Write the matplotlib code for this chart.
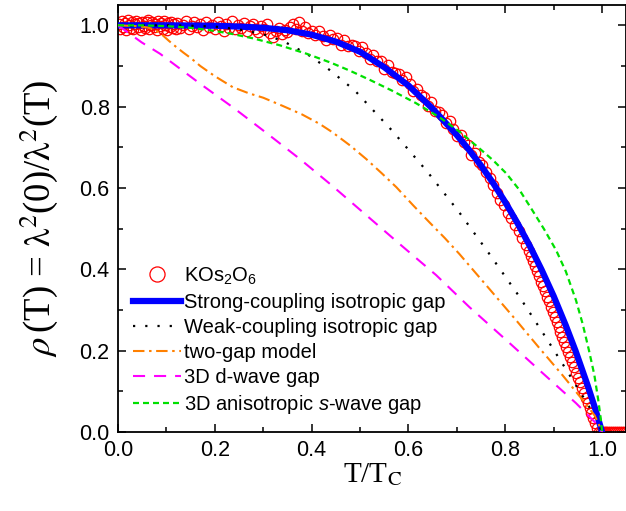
import matplotlib
matplotlib.use("Agg")
import matplotlib.pyplot as plt
from matplotlib.ticker import MultipleLocator

plt.rcParams['font.family'] = ['Liberation Sans', 'DejaVu Sans']
plt.rcParams['mathtext.fontset'] = 'custom'
plt.rcParams['mathtext.rm'] = 'Liberation Sans'
plt.rcParams['mathtext.it'] = 'Liberation Sans:italic'

t_data = [0.002, 0.005, 0.008, 0.011, 0.014, 0.017, 0.020, 0.023, 0.026, 0.029,
          0.032, 0.035, 0.038, 0.041, 0.044, 0.047, 0.050, 0.053, 0.056, 0.059,
          0.062, 0.065, 0.068, 0.071, 0.074, 0.077, 0.080, 0.083, 0.086, 0.089,
          0.092, 0.095, 0.098, 0.101, 0.104, 0.107, 0.110, 0.113, 0.116, 0.119,
          0.122, 0.128, 0.134, 0.140, 0.146, 0.152, 0.158, 0.164, 0.170, 0.176,
          0.182, 0.188, 0.194, 0.200, 0.206, 0.212, 0.218, 0.224, 0.230, 0.236,
          0.242, 0.248, 0.254, 0.260, 0.266, 0.272, 0.278, 0.284, 0.290, 0.296,
          0.302, 0.308, 0.314, 0.320, 0.326, 0.332, 0.338, 0.344, 0.350, 0.356,
          0.362, 0.368, 0.374, 0.380, 0.386, 0.392,
          0.400, 0.4075, 0.415, 0.4225, 0.430, 0.4375, 0.445, 0.4525, 0.460, 0.4675,
          0.475, 0.4825, 0.490, 0.4975, 0.505, 0.5125, 0.520, 0.5275, 0.535, 0.5425,
          0.550, 0.5575, 0.565, 0.5725, 0.580, 0.5875, 0.595, 0.6025, 0.610, 0.6175,
          0.625, 0.6325, 0.640, 0.6475, 0.655, 0.6625, 0.670, 0.6775, 0.685, 0.6925,
          0.700, 0.7075, 0.715, 0.7225, 0.730, 0.7375, 0.745, 0.7525, 0.760, 0.7675,
          0.775, 0.7825, 0.790, 0.7975, 0.805, 0.8125, 0.820, 0.8275, 0.835, 0.8425,
          0.850, 0.854, 0.858, 0.862, 0.866, 0.870, 0.874, 0.878, 0.882, 0.886,
          0.890, 0.894, 0.898, 0.902, 0.906, 0.910, 0.914, 0.918, 0.922, 0.926,
          0.930, 0.934, 0.938, 0.942, 0.946, 0.950, 0.954, 0.958, 0.962, 0.966,
          0.970, 0.974, 0.978, 0.982, 0.986, 0.990, 0.993,
          0.997, 1.001, 1.005, 1.009, 1.013, 1.017, 1.021, 1.025, 1.029, 1.033,
          1.037, 1.041, 1.045, 1.049]
rho_data = [1.004, 0.992, 1.010, 0.997, 1.006, 0.989, 1.012, 1.001, 0.994, 1.008,
            0.990, 1.003, 1.011, 0.996, 1.005, 0.988, 1.009, 0.999, 0.993, 1.007,
            1.012, 0.991, 1.002, 1.009, 0.995, 1.004, 0.988, 1.010, 0.998, 1.006,
            0.992, 1.011, 1.000, 0.989, 1.005, 0.997, 1.009, 0.993, 1.003, 0.990,
            1.006, 0.993, 1.001, 1.010, 0.990, 0.998, 1.007, 0.995, 1.003, 0.988,
            1.008, 0.996, 1.002, 0.991, 1.009, 0.999, 0.987, 1.004, 0.994, 1.010,
            0.990, 1.000, 0.993, 1.006, 0.986, 0.998, 1.004, 0.991, 0.983, 0.999,
            0.990, 1.003, 0.980, 0.972, 0.987, 0.994, 0.978, 0.989, 0.983, 0.996,
            1.004, 0.990, 1.008, 0.985, 0.996, 0.981,
            0.987, 0.977, 0.987, 0.975, 0.965, 0.976, 0.966, 0.968, 0.951, 0.964,
            0.949, 0.951, 0.950, 0.938, 0.946, 0.932, 0.918, 0.926, 0.912, 0.912,
            0.893, 0.903, 0.885, 0.884, 0.880, 0.865, 0.872, 0.855, 0.839, 0.844,
            0.828, 0.824, 0.802, 0.811, 0.790, 0.786, 0.779, 0.761, 0.764, 0.746,
            0.728, 0.731, 0.712, 0.705, 0.681, 0.687, 0.664, 0.657, 0.640, 0.624,
            0.607, 0.588, 0.570, 0.558, 0.539, 0.526, 0.508, 0.494, 0.478, 0.461,
            0.445, 0.433, 0.420, 0.408, 0.395, 0.383, 0.370, 0.358, 0.346, 0.333,
            0.321, 0.308, 0.296, 0.283, 0.271, 0.258, 0.246, 0.234, 0.221, 0.209,
            0.196, 0.184, 0.171, 0.159, 0.146, 0.134, 0.122, 0.109, 0.097, 0.084,
            0.072, 0.059, 0.047, 0.034, 0.022, 0.009, 0.000,
            0.0, 0.0, 0.0, 0.0, 0.0, 0.0, 0.0, 0.0, 0.0, 0.0,
            0.0, 0.0, 0.0, 0.0]

# model curves
t_strong = [0, 0.1, 0.2, 0.25, 0.3, 0.35, 0.4, 0.45, 0.5, 0.55, 0.6, 0.65, 0.7, 0.725, 0.75,
            0.775, 0.8, 0.825, 0.85, 0.875, 0.9, 0.925, 0.945, 0.97, 0.985, 1.0]
rho_strong = [1.0, 1.0, 0.999, 0.997, 0.994, 0.988, 0.977, 0.96, 0.935, 0.897, 0.852, 0.795, 0.73,
              0.694, 0.655, 0.612, 0.565, 0.514, 0.459, 0.399, 0.334, 0.262, 0.2, 0.115, 0.06, 0.0]

t_weak = [0, 0.1, 0.15, 0.2, 0.25, 0.3, 0.34, 0.39, 0.43, 0.489, 0.567, 0.639, 0.705, 0.767,
          0.829, 0.884, 0.925, 0.96, 0.987, 1.0]
rho_weak = [1.0, 1.0, 0.999, 0.997, 0.99, 0.978, 0.962, 0.93, 0.897, 0.84, 0.74, 0.64, 0.54, 0.438,
            0.333, 0.232, 0.155, 0.088, 0.035, 0.0]

t_two = [0, 0.04, 0.06, 0.075, 0.09, 0.105, 0.12, 0.135, 0.152, 0.17, 0.2, 0.237, 0.27, 0.3, 0.34,
         0.38, 0.416, 0.443, 0.48, 0.513, 0.545, 0.575, 0.61, 0.643, 0.675, 0.705, 0.767, 0.823,
         0.87, 0.918, 0.959, 0.985, 1.0]
rho_two = [1.0, 0.998, 0.995, 0.99, 0.978, 0.962, 0.947, 0.933, 0.918, 0.9, 0.875, 0.848, 0.833,
           0.822, 0.802, 0.781, 0.758, 0.737, 0.704, 0.671, 0.636, 0.602, 0.557, 0.516, 0.477, 0.438,
           0.352, 0.274, 0.207, 0.14, 0.08, 0.04, 0.0]

t_dwave = [0, 0.049, 0.087, 0.169, 0.24, 0.307, 0.375, 0.441, 0.513, 0.585, 0.657, 0.726, 0.802,
           0.877, 0.946, 0.987, 1.0]
rho_dwave = [1.0, 0.958, 0.93, 0.857, 0.796, 0.735, 0.672, 0.607, 0.533, 0.459, 0.386, 0.307, 0.226,
             0.145, 0.071, 0.022, 0.0]

t_swave = [0, 0.05, 0.1, 0.142, 0.19, 0.231, 0.279, 0.334, 0.39, 0.44, 0.478, 0.52, 0.565, 0.615,
           0.664, 0.705, 0.746, 0.775, 0.802, 0.83, 0.856, 0.88, 0.905, 0.925, 0.946, 0.96, 0.973,
           0.984, 0.992, 0.997, 1.0]
rho_swave = [1.0, 1.0, 0.998, 0.995, 0.988, 0.98, 0.968, 0.951, 0.93, 0.908, 0.889, 0.866, 0.84,
             0.809, 0.774, 0.739, 0.698, 0.668, 0.636, 0.594, 0.545, 0.499, 0.447, 0.395, 0.324,
             0.265, 0.2, 0.14, 0.079, 0.035, 0.0]

fig = plt.figure(figsize=(6.26, 5.11), dpi=100)
ax = fig.add_axes([0.1885, 0.1546, 0.812, 0.8356])

ax.plot(t_data, rho_data, 'o', mfc='none', mec='red', ms=7.5, mew=0.9,
        label='KOs$_2$O$_6$', zorder=2)
ax.plot(t_strong, rho_strong, '-', color='#0000ff', lw=4.5,
        label='Strong-coupling isotropic gap', zorder=3)
ax.plot(t_weak, rho_weak, color='black', lw=1.6, ls=(0, (1, 4.5)),
        label='Weak-coupling isotropic gap', zorder=4)
ax.plot(t_two, rho_two, color='#ff8000', lw=1.5, ls=(0, (5.5, 2.2, 1.2, 2.2)),
        label='two-gap model', zorder=4)
ax.plot(t_dwave, rho_dwave, color='#ff00ff', lw=1.5, ls=(0, (5.8, 4.3)),
        label='3D d-wave gap', zorder=4)
ax.plot(t_swave, rho_swave, color='#00e000', lw=1.6, ls=(0, (2.7, 1.8)),
        label='3D anisotropic $\\mathit{s}$-wave gap', zorder=4)

ax.set_xlim(0, 1.05)
ax.set_ylim(0, 1.05)
ax.xaxis.set_major_locator(MultipleLocator(0.2))
ax.xaxis.set_minor_locator(MultipleLocator(0.1))
ax.yaxis.set_major_locator(MultipleLocator(0.2))
ax.yaxis.set_minor_locator(MultipleLocator(0.1))
ax.tick_params(which='both', direction='in', top=True, right=True, width=1.1)
ax.tick_params(which='major', length=6, labelsize=15.5, pad=6)
ax.tick_params(which='minor', length=3.5)
for s in ax.spines.values():
    s.set_linewidth(1.3)

ax.set_xlabel('T/T$_\\mathrm{C}$', family='Liberation Serif', math_fontfamily='stix',
              fontsize=21, labelpad=0)
ax.set_ylabel('$\\rho\\,$(T) = $\\mathrm{\\lambda}^2$(0)/$\\mathrm{\\lambda}^2$(T)',
              family='Liberation Serif', math_fontfamily='stix', fontsize=26.5, labelpad=14)

ax.legend(loc='upper left', bbox_to_anchor=(0.03, 0.39), frameon=False,
          fontsize=14.5, numpoints=1, markerscale=1.45, handlelength=2.35,
          handletextpad=0.15, labelspacing=0.3, borderpad=0, borderaxespad=0)

fig.savefig('out.png', dpi=100)
